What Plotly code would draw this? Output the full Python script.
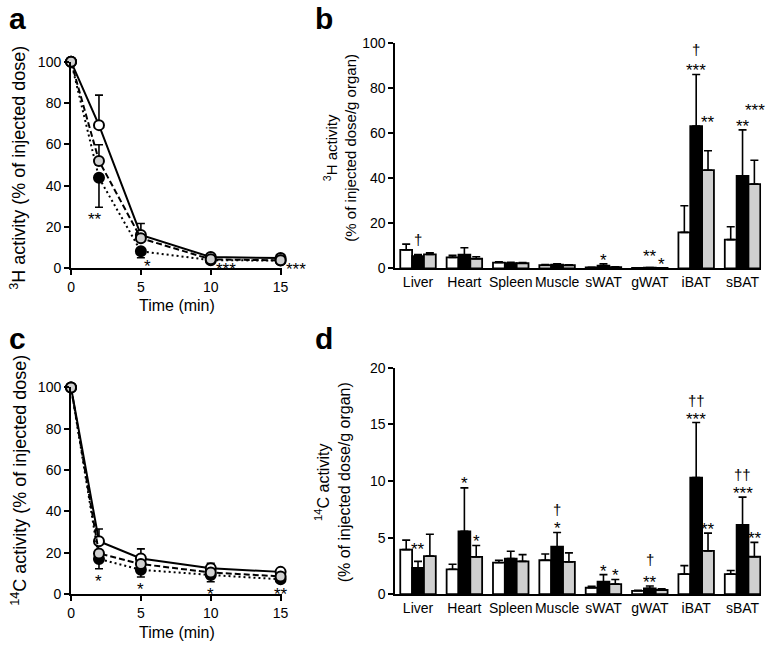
import plotly.graph_objects as go

FONT = "Liberation Sans, Arial, Helvetica, sans-serif"
W, H = 774, 650

# ---------------- data ----------------
time_min = [0, 2, 5, 10, 15]

# panel a (3H, time course)
a_open = [100, 69.3, 16.2, 5.5, 5.0]
a_open_err = [0, 14.5, 5.5, 0, 0]
a_black = [100, 43.8, 8.3, 4.0, 3.8]
a_black_err = [0, 14.2, 3.1, 0, 0]
a_gray = [100, 52.0, 14.6, 4.4, 3.9]
a_gray_err = [0, 7.8, 0, 0, 0]
a_sig_text = ["**", "*", "***", "***"]
a_sig_x = [2, 5, 10, 15]
a_sig_y = [25.5, 2.8, 1.6, 1.6]

# panel c (14C, time course)
c_open = [100, 25.6, 17.3, 12.5, 10.8]
c_open_err = [0, 5.9, 4.6, 2.5, 0]
c_black = [100, 17.0, 11.8, 9.3, 7.2]
c_black_err = [0, 4.7, 3.5, 3.3, 0]
c_gray = [100, 19.7, 14.6, 10.5, 8.6]
c_gray_err = [0, 0, 0, 0, 0]
c_sig_text = ["*", "*", "*", "**"]
c_sig_x = [2, 5, 10, 15]
c_sig_y = [8.0, 4.1, 2.0, 2.0]

organs = ["Liver", "Heart", "Spleen", "Muscle", "sWAT", "gWAT", "iBAT", "sBAT"]

# panel b (3H, organs)
b_white = [8.2, 4.9, 2.6, 1.4, 0.4, 0.2, 16.0, 12.8]
b_white_err = [2.6, 0.9, 0.3, 0.3, 0.1, 0.1, 11.8, 5.7]
b_black = [5.5, 6.1, 2.3, 1.7, 1.2, 0.3, 63.2, 41.1]
b_black_err = [0.7, 3.1, 0.4, 0.3, 0.8, 0.1, 22.9, 20.4]
b_gray = [6.2, 4.3, 2.3, 1.4, 0.6, 0.2, 43.6, 37.4]
b_gray_err = [0.7, 0.9, 0.3, 0.2, 0.1, 0.1, 8.6, 10.6]
b_sig_text = ["†", "*", "**", "*", "***", "†", "**", "**", "***"]
b_sig_cat = ["Liver", "sWAT", "gWAT", "gWAT", "iBAT", "iBAT", "iBAT", "sBAT", "sBAT"]
b_sig_series = [1, 1, 1, 2, 1, 1, 2, 1, 2]
b_sig_y = [12.3, 5.5, 6.9, 3.6, 89.5, 96.7, 66.4, 64.6, 71.9]

# panel d (14C, organs)
d_white = [3.94, 2.2, 2.8, 3.0, 0.57, 0.3, 1.78, 1.78]
d_white_err = [0.84, 0.45, 0.2, 0.55, 0.13, 0.05, 0.75, 0.32]
d_black = [2.33, 5.55, 3.15, 4.2, 1.1, 0.52, 10.3, 6.13]
d_black_err = [0.57, 3.85, 0.65, 1.25, 0.63, 0.2, 4.87, 2.45]
d_gray = [3.37, 3.3, 2.9, 2.85, 0.9, 0.37, 3.83, 3.31]
d_gray_err = [1.93, 1.0, 0.6, 0.8, 0.4, 0.11, 1.57, 1.27]
d_sig_text = ["**", "*", "*", "*", "†", "*", "*", "**", "†", "***", "††", "**", "***", "††", "**"]
d_sig_cat = ["Liver", "Heart", "Heart", "Muscle", "Muscle", "sWAT", "sWAT", "gWAT", "gWAT",
             "iBAT", "iBAT", "iBAT", "sBAT", "sBAT", "sBAT"]
d_sig_series = [1, 1, 2, 1, 1, 1, 2, 1, 1, 1, 1, 2, 1, 1, 2]
d_sig_y = [4.32, 10.1, 5.04, 6.13, 7.42, 2.39, 2.01, 1.38, 2.96, 15.77, 17.06, 6.07, 9.29, 10.5, 5.27]

GRAY = "#d0d0d0"

fig = go.Figure()


def err(up, down=False):
    z = [0] * len(up)
    if down:
        return dict(type="data", symmetric=False, array=z, arrayminus=up,
                    color="black", thickness=1.6, width=4)
    return dict(type="data", symmetric=False, array=up, arrayminus=z,
                color="black", thickness=1.6, width=4)


def add_time(xa, ya, op, ope, bl, ble, gr, gre):
    fig.add_trace(go.Scatter(x=time_min, y=op, xaxis=xa, yaxis=ya, mode="lines+markers",
                             line=dict(color="black", width=2),
                             marker=dict(size=10, color="white", line=dict(color="black", width=2)),
                             error_y=err(ope), cliponaxis=False, showlegend=False))
    fig.add_trace(go.Scatter(x=time_min, y=bl, xaxis=xa, yaxis=ya, mode="lines+markers",
                             line=dict(color="black", width=2, dash="2px,3px"),
                             marker=dict(size=10, color="black", line=dict(color="black", width=2)),
                             error_y=err(ble, down=True), cliponaxis=False, showlegend=False))
    fig.add_trace(go.Scatter(x=time_min, y=gr, xaxis=xa, yaxis=ya, mode="lines+markers",
                             line=dict(color="black", width=2, dash="6px,3px"),
                             marker=dict(size=10, color=GRAY, line=dict(color="black", width=2)),
                             error_y=err(gre), cliponaxis=False, showlegend=False))


def add_bars(xa, ya, wv, we, bv, be, gv, ge):
    for vals, e, col in ((wv, we, "white"), (bv, be, "black"), (gv, ge, GRAY)):
        fig.add_trace(go.Bar(x=organs, y=vals, xaxis=xa, yaxis=ya, marker=dict(
            color=col, line=dict(color="black", width=1.8)), error_y=err(e),
            showlegend=False, cliponaxis=False))


add_time("x", "y", a_open, a_open_err, a_black, a_black_err, a_gray, a_gray_err)
add_bars("x2", "y2", b_white, b_white_err, b_black, b_black_err, b_gray, b_gray_err)
add_time("x3", "y3", c_open, c_open_err, c_black, c_black_err, c_gray, c_gray_err)
add_bars("x4", "y4", d_white, d_white_err, d_black, d_black_err, d_gray, d_gray_err)


def px_x(p):
    return p / W


def px_y(p):
    return 1 - p / H


axis_common = dict(showline=True, linecolor="black", linewidth=2, ticks="outside",
                   ticklen=5, tickwidth=1.6, tickcolor="black", showgrid=False,
                   zeroline=False, tickfont=dict(family=FONT, size=14, color="black"))

layout = dict(width=W, height=H, margin=dict(l=0, r=0, t=0, b=0),
              plot_bgcolor="white", paper_bgcolor="white", barmode="group",
              bargap=0.234, bargroupgap=0, font=dict(family=FONT, color="black"))

time_x = dict(axis_common, range=[0, 15.1], tickvals=[0, 5, 10, 15],
              domain=[px_x(68), px_x(282)])
cat_x = dict(axis_common, ticks="", type="category", range=[-0.489, 7.4],
             domain=[px_x(397), px_x(768)])

layout["xaxis"] = dict(time_x, anchor="y")
layout["yaxis"] = dict(axis_common, range=[0, 100], tickvals=[0, 20, 40, 60, 80, 100],
                       domain=[px_y(267), px_y(55)], anchor="x")
layout["xaxis2"] = dict(cat_x, anchor="y2")
layout["yaxis2"] = dict(axis_common, range=[0, 100], tickvals=[0, 20, 40, 60, 80, 100],
                        domain=[px_y(267), px_y(36)], anchor="x2")
layout["xaxis3"] = dict(time_x, anchor="y3")
layout["yaxis3"] = dict(axis_common, range=[0, 100], tickvals=[0, 20, 40, 60, 80, 100],
                        domain=[px_y(601), px_y(389)], anchor="x3")
layout["xaxis4"] = dict(cat_x, anchor="y4")
layout["yaxis4"] = dict(axis_common, range=[0, 20], tickvals=[0, 5, 10, 15, 20],
                        domain=[px_y(601), px_y(369)], anchor="x4")

ann = []


def txt(text, x, y, size, angle=0, bold=False, **kw):
    d = dict(text=("<b>%s</b>" % text) if bold else text, x=px_x(x), y=px_y(y),
             xref="paper", yref="paper", showarrow=False, textangle=angle,
             font=dict(family=FONT, size=size, color="black"),
             xanchor="center", yanchor="middle")
    d.update(kw)
    ann.append(d)


# panel letters
txt("a", 14, 11, 30, bold=True)
txt("b", 325, 11, 30, bold=True)
txt("c", 14, 339, 30, bold=True)
txt("d", 325, 339, 30, bold=True)

# axis titles
txt("<sup>3</sup>H activity (% of injected dose)", 15, 164, 18, angle=-90)
txt("<sup>14</sup>C activity (% of injected dose)", 15, 484, 18, angle=-90)
txt("<sup>3</sup>H activity<br>(% of injected dose/g organ)", 341, 143, 15, angle=-90)
txt("<sup>14</sup>C activity<br>(% of injected dose/g organ)", 333, 486, 16, angle=-90)
txt("Time (min)", 175, 305, 16)
txt("Time (min)", 175, 640, 16)

STAR = dict(family=FONT, size=17, color="black")
DAG = dict(family=FONT, size=15, color="black")

# significance marks, time course panels
a_xshift = [-4, 7, 15, 15]
for t, x, y, xs in zip(a_sig_text, a_sig_x, a_sig_y, a_xshift):
    ann.append(dict(text=t, x=x, y=y, xref="x", yref="y", showarrow=False,
                    xshift=xs, yshift=-4, font=STAR))
for t, x, y in zip(c_sig_text, c_sig_x, c_sig_y):
    ann.append(dict(text=t, x=x, y=y, xref="x3", yref="y3", showarrow=False,
                    yshift=-4, font=STAR))

# significance marks, organ panels
for texts, cats, ser, ys, xr, yr in ((b_sig_text, b_sig_cat, b_sig_series, b_sig_y, "x2", "y2"),
                                     (d_sig_text, d_sig_cat, d_sig_series, d_sig_y, "x4", "y4")):
    for t, c, s, y in zip(texts, cats, ser, ys):
        star = "*" in t
        ann.append(dict(text=t, x=c, y=y, xref=xr, yref=yr, showarrow=False,
                        xshift=(s - 1) * 12, yshift=-4 if star else 1,
                        font=STAR if star else DAG))

layout["annotations"] = ann
fig.update_layout(**layout)
fig.write_html("out.html", config={"displayModeBar": False},
               post_script="document.body.style.margin='0';")
